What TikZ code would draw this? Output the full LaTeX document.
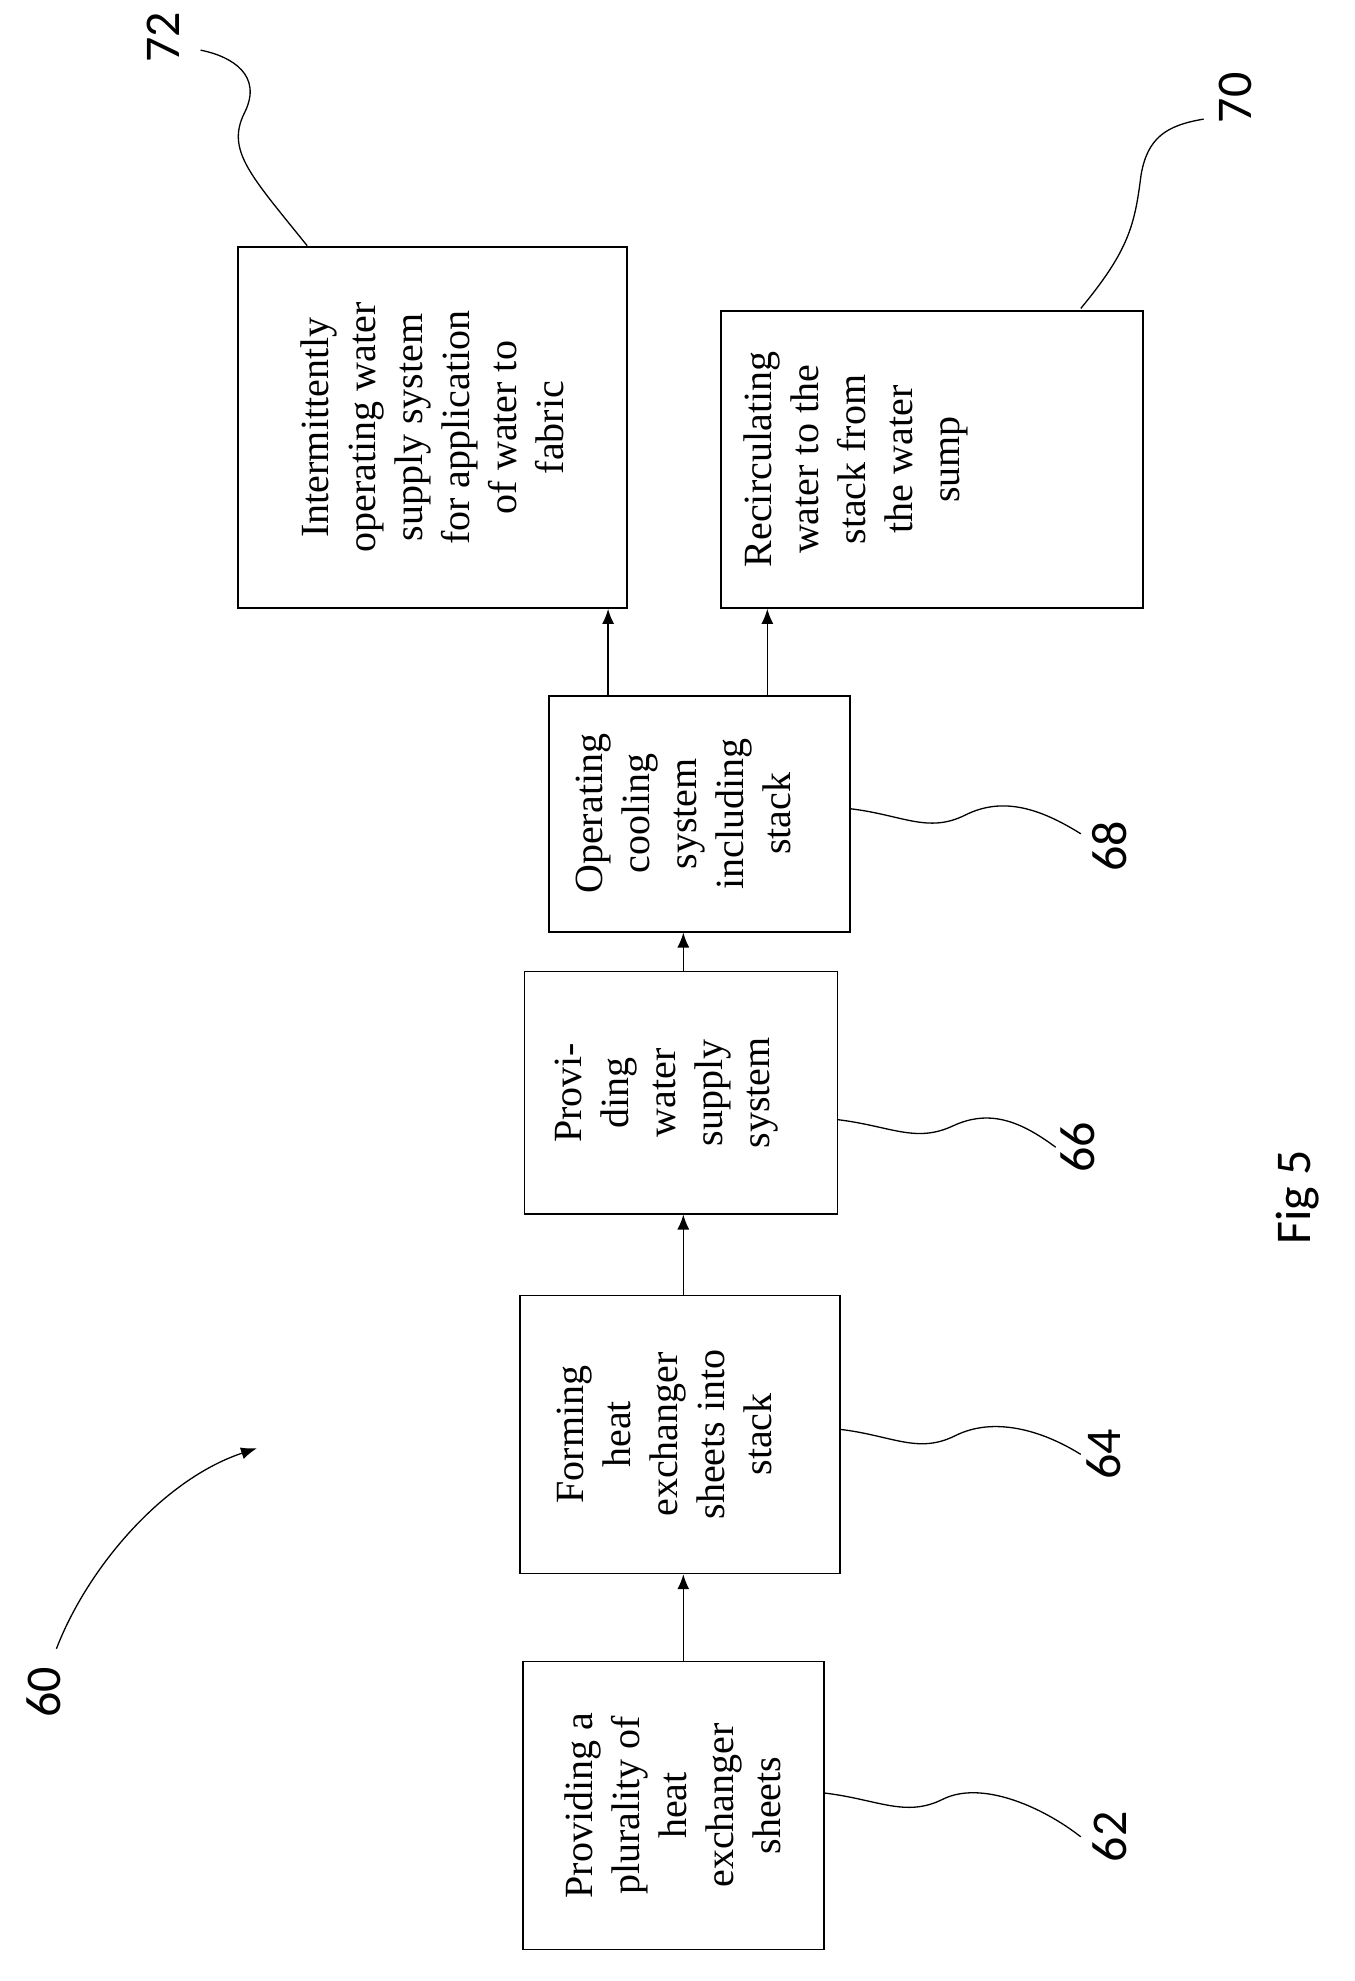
\documentclass[tikz,border=0pt]{standalone}
\usepackage{fontspec}
\setmainfont{Liberation Serif}
\newfontfamily\lab{Carlito}
\usetikzlibrary{arrows.meta}
\begin{document}
\begin{tikzpicture}[x=1.2537pt,y=-1.2537pt,
  box/.style={draw,line width=1.6pt,rotate=90,inner sep=0pt},
  txt/.style={rotate=90,align=center,font=\fontsize{40}{47}\selectfont},
  num/.style={rotate=90,font=\lab\fontsize{50}{50}\selectfont},
  arr/.style={line width=1.4pt,-{Latex[length=15pt,width=12pt]}},
  lead/.style={line width=1.3pt}]
\useasboundingbox (0,0) rectangle (1080,1580);
\node[box,minimum width=288pt,minimum height=301pt] (n62) at (537,1440) {};
\node[box,minimum width=278pt,minimum height=320pt] (n64) at (542.5,1144) {};
\node[box,minimum width=242pt,minimum height=313pt] (n66) at (543,871.5) {};
\node[box,minimum width=236pt,minimum height=301pt] (n68) at (558,649) {};
\node[box,minimum width=361pt,minimum height=389pt] (n72) at (345,341) {};
\node[box,minimum width=297pt,minimum height=422pt] (n70) at (743.5,366.5) {};
\node[txt] (t62) at (537,1440) {Providing a\\plurality of\\heat\\exchanger\\sheets};
\node[txt] (t64) at (530,1144) {Forming\\heat\\exchanger\\sheets into\\stack};
\node[txt] (t66) at (532,871.5) {Provi-\\ding\\water\\supply\\system};
\node[txt] (t68) at (545,649) {Operating\\cooling\\system\\including\\stack};
\node[txt] (t72) at (345,341) {Intermittently\\operating water\\supply system\\for application\\of water to\\fabric};
\node[txt,anchor=north] (t70) at (590,366.5) {Recirculating\\water to the\\stack from\\the water\\sump};
\draw[arr] (545,0 |- n62.east) -- (545,0 |- n64.west);
\draw[arr] (545,0 |- n64.east) -- (545,0 |- n66.west);
\draw[arr] (545,0 |- n66.east) -- (545,0 |- n68.west);
\draw[arr] (485,0 |- n68.east) -- (485,0 |- n72.west);
\draw[arr] (612,0 |- n68.east) -- (612,0 |- n70.west);
\node[num] (l72) at (130,30) {72};
\node[num] (l70) at (985,78) {70};
\node[num] (l68) at (885,675) {68};
\node[num] (l66) at (860,915) {66};
\node[num] (l64) at (880,1160) {64};
\node[num] (l62) at (885,1465) {62};
\node[num] (l60) at (35,1350) {60};
\node[num] (fig) at (1035,955) {Fig 5};
\coordinate (c72) at (245,196);
\coordinate (c70) at (862,246);
\draw[lead] (c72) .. controls (200,140) and (180,120) .. (195,90) .. controls (210,60) and (185,45) .. (160,40);
\draw[lead] (c70) .. controls (900,200) and (905,180) .. (910,140) .. controls (915,110) and (930,100) .. (960,95);
\draw[lead] (678,645) .. controls (720,650) and (740,665) .. (770,650) .. controls (800,635) and (830,645) .. (862,665);
\draw[lead] (668,893) .. controls (710,898) and (730,912) .. (760,898) .. controls (790,884) and (815,895) .. (842,915);
\draw[lead] (670,1140) .. controls (712,1145) and (732,1160) .. (762,1145) .. controls (792,1130) and (830,1140) .. (862,1160);
\draw[lead] (657,1430) .. controls (700,1435) and (722,1450) .. (752,1435) .. controls (782,1420) and (830,1440) .. (862,1465);
\coordinate (a60) at (205,1155);
\draw[lead,-{Latex[length=16pt,width=12pt]}] (45,1315) .. controls (70,1250) and (130,1180) .. (a60);
\end{tikzpicture}
\end{document}
